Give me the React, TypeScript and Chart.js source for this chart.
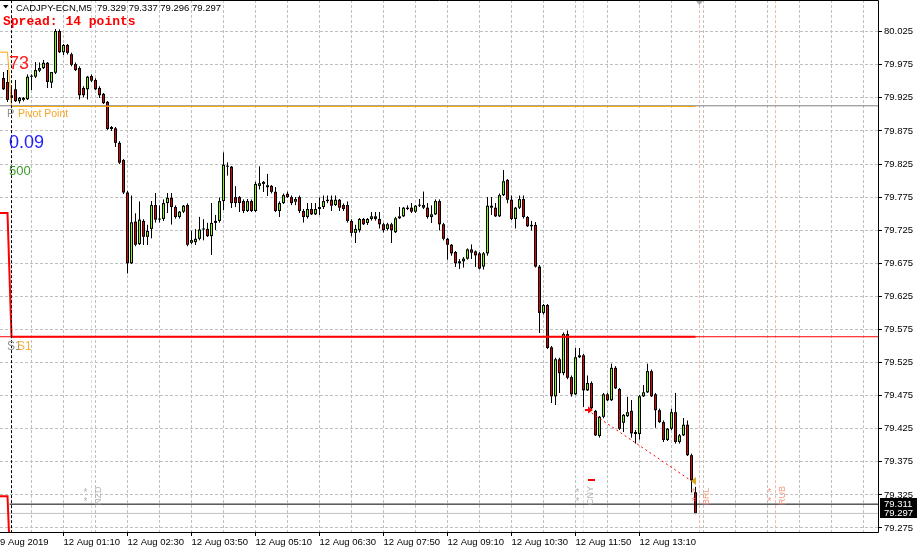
import React, { useEffect, useRef } from 'react';
import { Chart, registerables } from 'chart.js';

Chart.register(...registerables);

const symbolTitle = 'CADJPY-ECN,M5  79.329 79.337 79.296 79.297';
const spreadText = 'Spread: 14 points';

const opens = [
  79.955, 79.949, 79.929, 79.938, 79.920, 79.922, 79.923, 79.957, 79.957, 79.966,
  79.970, 79.978, 79.948, 79.963, 80.026, 79.994, 80.005, 79.991, 79.976, 79.970,
  79.940, 79.938, 79.958, 79.952, 79.940, 79.931, 79.919, 79.878, 79.879, 79.857,
  79.831, 79.782, 79.675, 79.738, 79.704, 79.739, 79.715, 79.727, 79.763, 79.742,
  79.742, 79.766, 79.774, 79.760, 79.745, 79.753, 79.763, 79.706, 79.707, 79.712,
  79.726, 79.727, 79.716, 79.736, 79.739, 79.769, 79.822, 79.821, 79.775, 79.775,
  79.769, 79.754, 79.769, 79.754, 79.792, 79.798, 79.793, 79.792, 79.783, 79.754,
  79.766, 79.780, 79.775, 79.768, 79.775, 79.754, 79.745, 79.757, 79.749, 79.757,
  79.760, 79.769, 79.771, 79.763, 79.771, 79.763, 79.763, 79.739, 79.721, 79.725,
  79.742, 79.736, 79.742, 79.746, 79.742, 79.734, 79.727, 79.734, 79.722, 79.743,
  79.746, 79.757, 79.759, 79.753, 79.762, 79.763, 79.759, 79.745, 79.749, 79.769,
  79.734, 79.712, 79.703, 79.692, 79.675, 79.678, 79.682, 79.696, 79.693, 79.690,
  79.670, 79.690, 79.762, 79.759, 79.746, 79.778, 79.801, 79.771, 79.742, 79.759,
  79.772, 79.745, 79.733, 79.733, 79.670, 79.600, 79.612, 79.548, 79.474, 79.530,
  79.509, 79.568, 79.503, 79.477, 79.533, 79.536, 79.483, 79.494, 79.452, 79.414,
  79.443, 79.477, 79.468, 79.517, 79.485, 79.434, 79.444, 79.452, 79.420, 79.417,
  79.474, 79.480, 79.512, 79.477, 79.453, 79.435, 79.408, 79.425, 79.450, 79.405,
  79.415, 79.431, 79.385, 79.329
];
const highs = [
  79.964, 79.967, 79.940, 79.952, 79.926, 79.926, 79.960, 79.960, 79.979, 79.978,
  79.982, 79.979, 79.964, 80.029, 80.028, 80.006, 80.006, 79.993, 79.978, 79.972,
  79.942, 79.958, 79.960, 79.954, 79.942, 79.932, 79.920, 79.882, 79.881, 79.859,
  79.832, 79.784, 79.777, 79.750, 79.768, 79.741, 79.733, 79.769, 79.781, 79.762,
  79.771, 79.781, 79.781, 79.762, 79.754, 79.763, 79.765, 79.724, 79.726, 79.745,
  79.741, 79.736, 79.766, 79.748, 79.774, 79.842, 79.827, 79.822, 79.791, 79.776,
  79.771, 79.772, 79.771, 79.798, 79.821, 79.799, 79.810, 79.793, 79.790, 79.768,
  79.780, 79.783, 79.777, 79.775, 79.777, 79.757, 79.766, 79.766, 79.766, 79.774,
  79.777, 79.777, 79.777, 79.777, 79.772, 79.765, 79.768, 79.741, 79.733, 79.743,
  79.743, 79.743, 79.752, 79.752, 79.752, 79.736, 79.736, 79.736, 79.745, 79.760,
  79.760, 79.762, 79.766, 79.763, 79.772, 79.783, 79.766, 79.762, 79.771, 79.771,
  79.736, 79.713, 79.704, 79.693, 79.681, 79.684, 79.697, 79.703, 79.694, 79.692,
  79.692, 79.775, 79.775, 79.766, 79.780, 79.816, 79.802, 79.777, 79.760, 79.777,
  79.777, 79.746, 79.739, 79.737, 79.672, 79.613, 79.613, 79.550, 79.532, 79.532,
  79.570, 79.573, 79.505, 79.547, 79.547, 79.538, 79.505, 79.496, 79.453, 79.444,
  79.479, 79.479, 79.523, 79.519, 79.486, 79.447, 79.473, 79.468, 79.423, 79.476,
  79.491, 79.523, 79.514, 79.479, 79.455, 79.437, 79.426, 79.455, 79.479, 79.417,
  79.441, 79.437, 79.387, 79.337
];
const lows = [
  79.937, 79.919, 79.922, 79.919, 79.917, 79.920, 79.922, 79.937, 79.955, 79.964,
  79.969, 79.940, 79.940, 79.961, 79.993, 79.990, 79.991, 79.973, 79.966, 79.923,
  79.926, 79.923, 79.949, 79.937, 79.925, 79.916, 79.877, 79.875, 79.851, 79.825,
  79.780, 79.660, 79.674, 79.701, 79.703, 79.703, 79.703, 79.713, 79.737, 79.737,
  79.739, 79.751, 79.734, 79.743, 79.743, 79.751, 79.701, 79.704, 79.703, 79.710,
  79.710, 79.715, 79.688, 79.726, 79.737, 79.756, 79.808, 79.759, 79.760, 79.753,
  79.751, 79.753, 79.753, 79.753, 79.787, 79.783, 79.777, 79.781, 79.753, 79.745,
  79.765, 79.774, 79.763, 79.763, 79.751, 79.737, 79.743, 79.748, 79.748, 79.748,
  79.757, 79.766, 79.754, 79.762, 79.754, 79.754, 79.737, 79.716, 79.706, 79.722,
  79.733, 79.733, 79.740, 79.740, 79.728, 79.722, 79.725, 79.706, 79.721, 79.742,
  79.745, 79.756, 79.751, 79.751, 79.760, 79.757, 79.743, 79.736, 79.748, 79.725,
  79.710, 79.681, 79.687, 79.670, 79.667, 79.669, 79.681, 79.682, 79.670, 79.666,
  79.666, 79.687, 79.748, 79.745, 79.745, 79.777, 79.766, 79.741, 79.728, 79.757,
  79.743, 79.730, 79.725, 79.669, 79.570, 79.598, 79.546, 79.464, 79.461, 79.479,
  79.506, 79.500, 79.474, 79.476, 79.532, 79.458, 79.482, 79.453, 79.414, 79.412,
  79.441, 79.467, 79.467, 79.485, 79.423, 79.420, 79.443, 79.412, 79.403, 79.409,
  79.473, 79.479, 79.473, 79.427, 79.434, 79.405, 79.407, 79.423, 79.403, 79.403,
  79.414, 79.384, 79.329, 79.296
];
const closes = [
  79.938, 79.922, 79.925, 79.920, 79.925, 79.925, 79.957, 79.958, 79.967, 79.970,
  79.978, 79.949, 79.964, 80.026, 79.994, 80.005, 79.993, 79.975, 79.967, 79.929,
  79.929, 79.957, 79.951, 79.938, 79.929, 79.917, 79.878, 79.881, 79.857, 79.827,
  79.782, 79.675, 79.737, 79.703, 79.741, 79.715, 79.724, 79.763, 79.741, 79.741,
  79.766, 79.774, 79.760, 79.745, 79.753, 79.762, 79.703, 79.710, 79.712, 79.726,
  79.727, 79.716, 79.736, 79.739, 79.769, 79.824, 79.821, 79.766, 79.766, 79.766,
  79.754, 79.769, 79.754, 79.795, 79.796, 79.795, 79.790, 79.783, 79.754, 79.766,
  79.778, 79.775, 79.766, 79.772, 79.754, 79.745, 79.757, 79.749, 79.757, 79.760,
  79.769, 79.771, 79.762, 79.771, 79.759, 79.757, 79.739, 79.721, 79.727, 79.742,
  79.734, 79.742, 79.746, 79.742, 79.734, 79.725, 79.734, 79.725, 79.743, 79.746,
  79.759, 79.759, 79.753, 79.762, 79.763, 79.759, 79.745, 79.749, 79.769, 79.734,
  79.712, 79.703, 79.690, 79.675, 79.678, 79.682, 79.696, 79.691, 79.687, 79.667,
  79.690, 79.762, 79.759, 79.746, 79.778, 79.799, 79.771, 79.742, 79.759, 79.772,
  79.745, 79.731, 79.731, 79.670, 79.600, 79.612, 79.547, 79.474, 79.530, 79.509,
  79.568, 79.502, 79.477, 79.533, 79.536, 79.483, 79.494, 79.456, 79.415, 79.443,
  79.477, 79.468, 79.517, 79.486, 79.425, 79.446, 79.450, 79.418, 79.417, 79.474,
  79.480, 79.512, 79.474, 79.453, 79.435, 79.408, 79.425, 79.450, 79.405, 79.415,
  79.431, 79.385, 79.347, 79.297
];

const yTickValues = [79.275, 79.325, 79.375, 79.425, 79.475, 79.525, 79.575, 79.625, 79.675, 79.725, 79.775, 79.825, 79.875, 79.925, 79.975, 80.025];
const gridBars = [7, 15, 23, 31, 39, 47, 55, 63, 71, 79, 87, 95, 103, 111, 119, 127, 135, 143, 151, 159, 167, 175, 183, 191, 199, 207, 215];
const timeLabelBars = [15, 31, 47, 63, 79, 95, 111, 127, 143, 159];
const timeLabels = ['12 Aug 01:10', '12 Aug 02:30', '12 Aug 03:50', '12 Aug 05:10', '12 Aug 06:30', '12 Aug 07:50', '12 Aug 09:10', '12 Aug 10:30', '12 Aug 11:50', '12 Aug 13:10'];
const firstDateLabel = '9 Aug 2019';

const X_MIN = -0.875;
const X_MAX = 218.625;
const Y_MIN = 79.2689;
const Y_MAX = 80.0729;

// pivot indicator (previous day -> today)
const levelBars = [-2, 1, 2, 173];
const pivotValues = [79.994, 79.994, 79.912, 79.912];
const s1Values = [79.751, 79.751, 79.564, 79.564];
const s2Values = [79.323, 79.323, 79.175, 79.175];
const pivotLevel = 79.913;
const s1Level = 79.564;
const askPrice = 79.311;
const bidPrice = 79.297;
const separatorBar = 2;

const eventNames = ['NZD', 'CNY', 'BRL', 'RUB'];
const eventBars = [22, 145, 174, 193];
const eventTextColors = ['#b4b4b4', '#b4b4b4', '#f29a80', '#f29a80'];
const eventLineColors = ['#dcdcdc', '#dcdcdc', '#f0b8a8', '#f0b8a8'];

const tradeBars = [146, 172];
const tradePrices = [79.453, 79.346];
const takeProfitPrice = 79.347;

const GRID = '#c0c0c0';
const BULL = '#7cfc00';
const BEAR = '#e00000';
const FONT = '"Liberation Sans", Arial, sans-serif';
const BODY_EDGE = 0.0016; // about one pixel of price: the black edge of a body

const barIdx = opens.map((_, i) => i);
const wickPoints: any[] = [];
barIdx.forEach((i) => {
  const top = Math.max(opens[i], closes[i]);
  const bot = Math.min(opens[i], closes[i]);
  wickPoints.push({ x: i, y: highs[i] }, { x: i, y: top }, { x: i, y: null });
  wickPoints.push({ x: i, y: bot }, { x: i, y: lows[i] }, { x: i, y: null });
});
const bodyOutline = barIdx.map((i) => ({ x: i, y: [opens[i], closes[i]] }));
// coloured inside of each body, as vertical 1px segments
const fillPoints: any[] = [];
const fillPointColors: string[] = [];
barIdx.forEach((i) => {
  const top = Math.max(opens[i], closes[i]);
  const bot = Math.min(opens[i], closes[i]);
  if (top - bot > 2 * BODY_EDGE) {
    const col = closes[i] >= opens[i] ? BULL : BEAR;
    fillPoints.push({ x: i, y: bot + BODY_EDGE }, { x: i, y: top - BODY_EDGE }, { x: i, y: null });
    fillPointColors.push(col, col, col);
  }
});

const lineDs = (data: any[], color: string, width: number, order: number, dash: number[] = []) => ({
  type: 'line',
  data,
  borderColor: color,
  borderWidth: width,
  borderDash: dash,
  borderCapStyle: 'butt',
  pointRadius: 0,
  pointHoverRadius: 0,
  pointBorderWidth: 0,
  fill: false,
  tension: 0,
  spanGaps: false,
  order,
});

const overlayPlugin = {
  id: 'mtOverlay',
  afterDraw(chart: any) {
    const { ctx, chartArea: a } = chart;
    const xs = chart.scales.x;
    const ys = chart.scales.y;
    const px = (b: number) => xs.getPixelForValue(b);
    const py = (p: number) => ys.getPixelForValue(p);
    ctx.save();
    ctx.setLineDash([]);

    ctx.strokeStyle = '#000';
    ctx.lineWidth = 1;
    ctx.beginPath();
    ctx.moveTo(a.left, a.top + 0.5);
    ctx.lineTo(a.right + 0.5, a.top + 0.5);
    ctx.lineTo(a.right + 0.5, a.bottom + 0.5);
    ctx.lineTo(a.left, a.bottom + 0.5);
    ctx.stroke();

    const ox = Math.round(px(tradeBars[0]));
    const oy = Math.round(py(tradePrices[0]));
    ctx.fillStyle = '#ff0000';
    ctx.beginPath();
    ctx.moveTo(ox + 5, oy);
    ctx.lineTo(ox, oy - 3.5);
    ctx.lineTo(ox, oy + 3.5);
    ctx.closePath();
    ctx.fill();
    ctx.fillRect(ox - 3, oy - 1, 4, 2);
    ctx.fillRect(Math.round(px(tradeBars[0])), Math.round(py(takeProfitPrice)) - 1, 7, 2);
    const cx = Math.round(px(tradeBars[1]));
    const cy = Math.round(py(tradePrices[1]));
    ctx.fillStyle = '#daa520';
    ctx.beginPath();
    ctx.moveTo(cx - 1, cy);
    ctx.lineTo(cx + 4, cy - 4);
    ctx.lineTo(cx + 4, cy + 4);
    ctx.closePath();
    ctx.fill();

    eventNames.forEach((name, k) => {
      const ex = px(eventBars[k]);
      ctx.fillStyle = eventTextColors[k];
      ctx.font = `9px ${FONT}`;
      ctx.save();
      ctx.translate(ex + 9, a.bottom - 27);
      ctx.rotate(-Math.PI / 2);
      ctx.textAlign = 'left';
      ctx.textBaseline = 'alphabetic';
      ctx.fillText(name, 0, 0);
      ctx.restore();
      ctx.font = `10px ${FONT}`;
      ctx.textAlign = 'center';
      ctx.textBaseline = 'alphabetic';
      ctx.fillText('*', ex - 6, a.bottom - 36);
      ctx.fillText('*', ex - 6, a.bottom - 27);
    });
    const bx = px(eventBars[2]);
    ctx.fillStyle = '#a8a8a8';
    ctx.beginPath();
    ctx.moveTo(bx - 3.5, 1);
    ctx.lineTo(bx + 3.5, 1);
    ctx.lineTo(bx, 5);
    ctx.closePath();
    ctx.fill();

    ctx.fillStyle = '#000';
    ctx.beginPath();
    ctx.moveTo(3, 5);
    ctx.lineTo(8.5, 5);
    ctx.lineTo(5.75, 8.5);
    ctx.closePath();
    ctx.fill();
    ctx.textAlign = 'left';
    ctx.textBaseline = 'alphabetic';
    ctx.font = `9.5px ${FONT}`;
    ctx.fillText(symbolTitle, 16, 11);
    ctx.fillStyle = '#ff0000';
    ctx.font = 'bold 13px "Liberation Mono", monospace';
    ctx.fillText(spreadText, 3, 25);

    ctx.font = `18px ${FONT}`;
    ctx.fillStyle = '#ff1a1a';
    ctx.fillText('73', 9, 69);
    ctx.fillStyle = '#1e1eff';
    ctx.fillText('0.09', 9, 148);
    ctx.font = `13px ${FONT}`;
    ctx.fillStyle = '#3c9a28';
    ctx.fillText('500', 9, 175);
    ctx.font = `11px ${FONT}`;
    ctx.fillStyle = '#909090';
    ctx.fillText('P', 7, 117);
    ctx.fillStyle = '#f5a623';
    ctx.font = `10.5px ${FONT}`;
    ctx.fillText('Pivot Point', 18, 117);
    ctx.font = `12px ${FONT}`;
    ctx.fillStyle = '#909090';
    ctx.fillText('S1', 7, 350);
    ctx.fillStyle = '#f5b041';
    ctx.fillText('S1', 17, 350);

    const tag = (price: number, text: string) => {
      const ty = Math.round(py(price));
      ctx.fillStyle = '#000';
      ctx.fillRect(a.right + 2, ty - 6, chart.width - a.right - 2, 11);
      ctx.fillStyle = '#fff';
      ctx.font = `9.5px ${FONT}`;
      ctx.textBaseline = 'middle';
      ctx.fillText(text, a.right + 6, ty);
    };
    tag(bidPrice, bidPrice.toFixed(3));
    tag(askPrice, askPrice.toFixed(3));
    ctx.restore();
  },
};

export default function App() {
  const ref = useRef<HTMLCanvasElement | null>(null);
  useEffect(() => {
    document.body.style.margin = '0';
    if (!ref.current) return;
    const datasets: any[] = [
      ...eventBars.map((b, k) =>
        lineDs([{ x: b, y: Y_MIN - 0.1 }, { x: b, y: Y_MAX + 0.1 }], eventLineColors[k], 1, 20, [3, 2])
      ),
      lineDs(wickPoints, '#000000', 1, 12),
      {
        type: 'bar',
        data: bodyOutline,
        backgroundColor: '#000000',
        borderWidth: 0,
        barThickness: 3,
        maxBarThickness: 3,
        barPercentage: 1,
        categoryPercentage: 1,
        minBarLength: 1,
        inflateAmount: 0,
        order: 11,
      },
      {
        ...lineDs(fillPoints, BEAR, 1, 6),
        segment: {
          borderColor: (c: any) => fillPointColors[c.p0DataIndex] || BEAR,
        },
      },
      lineDs([{ x: X_MIN - 1, y: bidPrice }, { x: X_MAX + 1, y: bidPrice }], '#c0c0c0', 1, 5),
      lineDs([{ x: 1.5, y: askPrice }, { x: X_MAX + 1, y: askPrice }], '#000000', 1, 5),
      lineDs([{ x: X_MIN - 1, y: pivotLevel }, { x: X_MAX + 1, y: pivotLevel }], '#808080', 1, 5),
      lineDs([{ x: X_MIN - 1, y: s1Level }, { x: X_MAX + 1, y: s1Level }], '#ff0000', 1, 5),
      lineDs(levelBars.map((b, k) => ({ x: b, y: pivotValues[k] })), '#ffa500', 1, 4),
      lineDs(levelBars.map((b, k) => ({ x: b, y: s1Values[k] })), '#ff0000', 2, 4),
      lineDs(levelBars.map((b, k) => ({ x: b, y: s2Values[k] })), '#ff0000', 2, 4),
      lineDs(tradeBars.map((b, k) => ({ x: b, y: tradePrices[k] })), '#ff0000', 1, 2, [2, 3]),
      lineDs([{ x: separatorBar, y: Y_MIN - 0.1 }, { x: separatorBar, y: Y_MAX + 0.1 }], '#000000', 1, 1, [3, 2]),
    ];

    const chart = new Chart(ref.current, {
      type: 'bar',
      data: { datasets },
      plugins: [overlayPlugin],
      options: {
        animation: false,
        responsive: false,
        maintainAspectRatio: false,
        devicePixelRatio: 1,
        events: [],
        layout: { padding: 0, autoPadding: false },
        plugins: { legend: { display: false }, tooltip: { enabled: false } },
        scales: {
          x: {
            type: 'linear',
            position: 'bottom',
            min: X_MIN,
            max: X_MAX,
            offset: false,
            afterBuildTicks: (s: any) => {
              s.ticks = [{ value: X_MIN }, ...gridBars.map((v) => ({ value: v }))];
            },
            afterFit: (s: any) => {
              s.height = 19;
              s.paddingLeft = 0;
              s.paddingRight = 0;
              s.paddingTop = 0;
              s.paddingBottom = 0;
            },
            grid: {
              offset: false,
              color: (c: any) => (c.tick && c.tick.value === X_MIN ? 'rgba(0,0,0,0)' : GRID),
              lineWidth: 1,
              drawTicks: true,
              tickLength: 4,
              tickWidth: 1,
              tickBorderDash: [],
              tickColor: (c: any) => (c.tick && timeLabelBars.includes(c.tick.value) ? '#000' : 'rgba(0,0,0,0)'),
            },
            border: { display: false, dash: [3, 2] },
            ticks: {
              autoSkip: false,
              maxRotation: 0,
              minRotation: 0,
              align: 'start',
              padding: 1,
              color: '#000',
              font: { family: FONT, size: 9.5 },
              callback: (value: any) => {
                if (value === X_MIN) return firstDateLabel;
                const k = timeLabelBars.indexOf(value);
                return k >= 0 ? timeLabels[k] : '';
              },
            },
          },
          y: {
            type: 'linear',
            position: 'right',
            min: Y_MIN,
            max: Y_MAX,
            beginAtZero: false,
            afterBuildTicks: (s: any) => {
              s.ticks = yTickValues.map((v) => ({ value: v }));
            },
            afterFit: (s: any) => {
              s.width = 39;
              s.paddingLeft = 0;
              s.paddingRight = 0;
              s.paddingTop = 0;
              s.paddingBottom = 0;
            },
            grid: {
              color: GRID,
              lineWidth: 1,
              drawTicks: true,
              tickLength: 4,
              tickWidth: 1,
              tickBorderDash: [],
              tickColor: '#000',
            },
            border: { display: false, dash: [3, 2] },
            ticks: {
              autoSkip: false,
              padding: 2,
              color: '#000',
              font: { family: FONT, size: 9.5 },
              callback: (value: any) => Number(value).toFixed(3),
            },
          },
        },
      } as any,
    } as any);
    return () => chart.destroy();
  }, []);

  return (
    <div style={{ width: 917, height: 551, background: '#fff' }}>
      <canvas ref={ref} width={917} height={551} style={{ display: 'block' }} />
    </div>
  );
}
